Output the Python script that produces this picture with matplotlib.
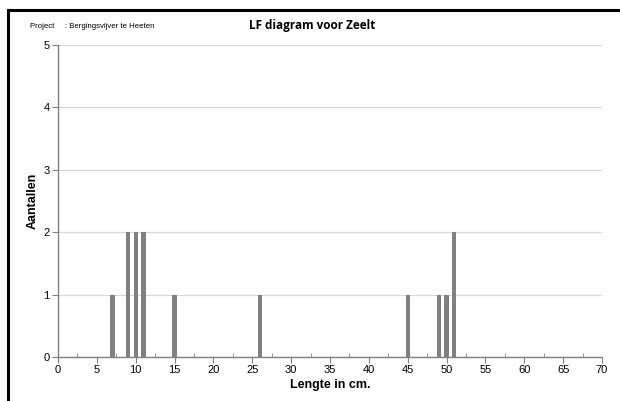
import matplotlib
matplotlib.use("Agg")
import matplotlib.pyplot as plt
from matplotlib.ticker import MultipleLocator
from matplotlib.lines import Line2D

lengths = [7, 9, 10, 11, 15, 26, 45, 49, 50, 51]
counts = [1, 2, 2, 2, 1, 1, 1, 1, 1, 2]
x_ticks = list(range(0, 71, 5))
y_ticks = [0, 1, 2, 3, 4, 5]

plt.rcParams['font.family'] = ['Liberation Sans', 'DejaVu Sans']

fig = plt.figure(figsize=(6.2, 4.01), dpi=100)
W, H = 620, 401
ax = fig.add_axes([58 / W, 1 - 357 / H, (602 - 58) / W, (357 - 45) / H])

ax.bar(lengths, counts, width=0.55, color='#808080', zorder=3)
ax.set_xlim(0, 70)
ax.set_ylim(0, 5)
ax.set_xticks(x_ticks)
ax.set_yticks(y_ticks)
ax.xaxis.set_minor_locator(MultipleLocator(2.5))
ax.grid(axis='y', color='#d9d9d9', linewidth=0.9, zorder=0)
for s in ['top', 'right']:
    ax.spines[s].set_visible(False)
for s in ['left', 'bottom']:
    ax.spines[s].set_color('#808080')
    ax.spines[s].set_linewidth(1.0)
ax.tick_params(axis='x', which='major', direction='out', length=4, color='#808080', labelsize=8, pad=2)
ax.tick_params(axis='x', which='minor', direction='in', length=3, color='#808080')
ax.tick_params(axis='y', which='major', direction='out', length=4, color='#808080', labelsize=8, pad=2)

ax.set_xlabel('Lengte in cm.', fontsize=9, fontweight='bold')
ax.set_ylabel('Aantallen', fontsize=9, fontweight='bold')
ax.xaxis.set_label_coords(0.5, (357 - 379) / 312)
ax.yaxis.set_label_coords((39 - 58) / 544, 0.5)

fig.text(312 / W, 1 - 26 / H, 'LF diagram voor Zeelt', fontsize=8.5, fontweight='bold',
         ha='center', va='center', family=['Open Sans', 'DejaVu Sans'])
fig.text(30 / W, 1 - 27 / H, 'Project     : Bergingsvijver te Heeten', fontsize=5.6,
         ha='left', va='center')

# outer frame (top and left edges)
fig.add_artist(Line2D([8 / W, 1.0], [1 - 9.5 / H, 1 - 9.5 / H], color='black', linewidth=2.2,
                      transform=fig.transFigure))
fig.add_artist(Line2D([8 / W, 8 / W], [0, 1 - 9.5 / H], color='black', linewidth=2.2,
                      transform=fig.transFigure))

fig.savefig('out.png', dpi=100)
